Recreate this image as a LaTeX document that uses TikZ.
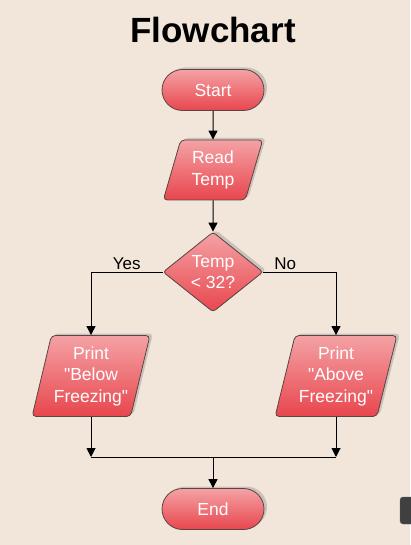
\documentclass[tikz,border=0pt]{standalone}
\usepackage{fontspec}
\setmainfont{Liberation Sans}[Ligatures=TeXOff]
\usetikzlibrary{shapes.geometric,shapes.misc,shadows,arrows.meta}

\begin{document}
\begin{tikzpicture}[x=1pt,y=-1pt,
  box/.style={draw=boxline,line width=0.8pt,text=white,align=center,
    font=\fontsize{17.5}{21.5}\selectfont,inner sep=0pt,
    top color=boxtop,middle color=boxmid,bottom color=boxbot,
    drop shadow={shadow xshift=3pt,shadow yshift=2pt,fill=gray,opacity=0.35}},
  term/.style={box,rounded rectangle,minimum width=102pt,minimum height=41pt},
  io/.style={box,trapezium,trapezium left angle=73,trapezium right angle=107,
    trapezium stretches=true,rounded corners=4pt},
  test/.style={box,diamond,minimum width=100pt,minimum height=80pt,rounded corners=3pt},
  arr/.style={-{Triangle[width=9pt,length=9pt]},line width=1pt},
  lbl/.style={font=\fontsize{17}{20}\selectfont,above,inner sep=2pt}]
\definecolor{bgc}{HTML}{F2E6DA}
\definecolor{boxtop}{HTML}{F4A2A5}
\definecolor{boxmid}{HTML}{EE7F84}
\definecolor{boxbot}{HTML}{E8464D}
\definecolor{boxline}{HTML}{5A4444}
\fill[bgc] (0,0) rectangle (410,545);
\useasboundingbox (0,0) rectangle (410,545);
\node[font=\fontsize{35}{40}\selectfont\bfseries] (title) at (213,30) {Flowchart};
% nodes
\node[term] (start) at (213,90) {Start};
\node[io,minimum width=100pt,minimum height=60pt] (read) at (213,170) {Read\\Temp};
\node[test] (dec) at (213,272) {Temp\\< 32?};
\node[io,minimum width=118pt,minimum height=81pt] (below) at (91,376) {Print\\"Below\\Freezing"};
\node[io,minimum width=122pt,minimum height=81pt] (above) at (336,376) {Print\\"Above\\Freezing"};
\node[term] (end) at (213,509) {End};
\coordinate (join) at (213,457);
% connectors
\draw[arr] (start) -- (read);
\draw[arr] (read) -- (dec);
\draw[arr] (dec.west) -| node[lbl,pos=0.25] {Yes} (below.north);
\draw[arr] (dec.east) -| node[lbl,pos=0.15] {No} (above.north);
\draw[arr] (below.south) -- (below.south |- join);
\draw[arr] (above.south) -- (above.south |- join);
\draw[line width=1pt] (below.south |- join) -- (above.south |- join);
\draw[arr] (join) -- (end);
% cut-off box at the edge
\draw[fill=black!75,draw=black!60,rounded corners=3pt] (400,497) rectangle (430,524);
\end{tikzpicture}
\end{document}
